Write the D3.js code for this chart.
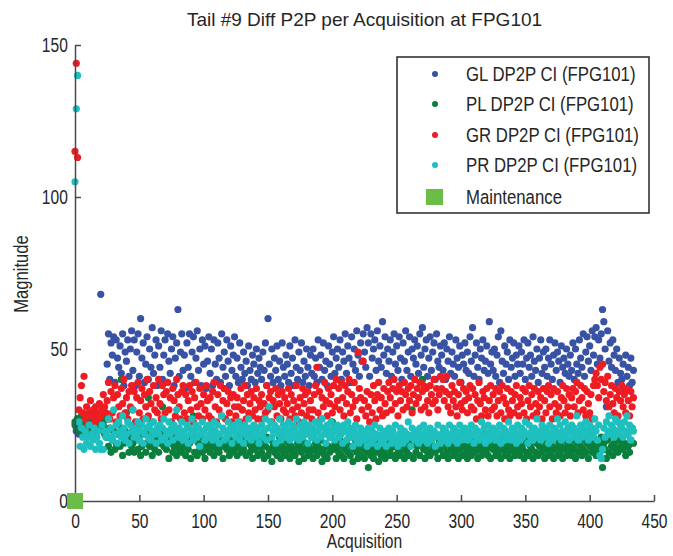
<!DOCTYPE html>
<html>
<head>
<meta charset="utf-8">
<script src="https://cdn.jsdelivr.net/npm/d3@7"></script>
<style>
  body { margin: 0; background: #fff; }
  text { font-family: "Liberation Sans", Arial, sans-serif; fill: #262626; }
</style>
</head>
<body>
<script>
// values, one per acquisition (index = acquisition number)
var glValues = [
  25,23,27,22,26,24,28,23,25,27,22,26,24,29,23,25,27,24,26,28,68,26,24,28,27,
  45,55,40,52,48,54,39,53,47,44,51,42,55,38,49,46,53,41,50,56,
  43,53,38,49,55,41,60,47,52,39,45,54,40,50,44,57,42,48,53,38,
  51,44,56,40,48,53,39,55,46,42,50,54,38,47,52,63,41,49,55,43,
  48,37,52,44,55,41,49,54,39,47,56,43,50,38,53,45,51,37,46,54,
  42,50,38,53,45,40,52,47,39,55,44,49,41,53,46,38,51,43,48,54,
  41,47,39,52,44,40,49,42,46,38,51,43,40,48,45,39,50,42,47,44,
  40,49,43,52,38,60,45,41,50,39,47,43,51,40,46,38,52,44,41,48,
  45,39,51,42,47,38,53,44,40,49,43,52,39,46,41,50,44,38,48,42,
  50,41,47,39,53,44,48,40,52,43,46,38,51,45,41,49,54,42,47,50,
  44,53,40,49,46,55,42,51,47,39,54,45,50,43,56,48,41,52,46,55,
  49,44,57,52,41,55,47,50,53,43,56,46,51,44,59,48,54,42,50,46,
  53,41,49,55,45,51,43,54,47,40,52,46,56,43,49,54,41,50,47,53,
  45,51,42,55,48,57,44,50,53,41,47,54,43,49,52,40,55,46,44,51,
  48,43,52,40,50,46,54,42,49,45,41,53,47,44,51,39,48,45,52,43,
  49,42,54,46,57,41,48,52,44,40,50,47,53,43,46,51,42,59,45,49,
  43,50,41,48,54,39,56,46,42,51,45,49,40,53,44,47,52,41,48,45,
  51,42,49,45,53,40,47,52,44,48,41,54,46,43,50,39,47,53,42,49,
  44,50,41,47,53,45,40,48,52,43,49,46,39,51,44,47,42,50,45,41,
  48,43,52,40,50,45,42,53,47,44,55,41,49,54,46,51,43,56,48,54,
  57,45,53,47,55,63,59,50,31,56,46,52,44,53,48,43,50,39,47,42,
  40,45,36,48,41,44,38,47,39,43
];
var plValues = [
  26,24,27,23,25,28,24,26,22,27,25,23,28,24,26,29,25,27,23,26,24,28,25,22,27,
  21,18,24,16,20,23,17,19,22,25,18,40,15,19,23,29,20,16,22,18,
  19,16,21,24,17,20,15,18,22,19,16,23,34,18,21,15,19,17,22,20,
  16,19,22,31,18,21,17,20,14,19,23,16,18,21,15,19,17,22,16,20,
  18,15,21,17,19,14,22,28,16,20,15,19,17,21,16,18,14,20,17,19,
  16,21,18,15,19,17,22,16,20,18,14,37,19,17,21,15,18,16,20,17,
  19,15,18,21,16,30,17,20,15,19,22,16,18,14,20,17,19,15,21,18,
  16,19,14,18,21,15,17,20,13,18,16,19,15,17,21,14,18,16,20,15,
  17,19,14,18,16,21,15,17,19,13,18,16,20,14,17,19,15,18,16,21,
  14,17,19,15,18,16,20,13,17,15,19,14,18,16,21,26,17,19,14,18,
  16,20,15,18,14,17,19,16,21,15,18,13,17,20,16,14,18,15,19,17,
  14,18,16,11,19,15,17,14,20,16,18,13,17,15,19,16,14,18,20,15,
  17,19,15,18,14,20,16,18,15,21,17,14,19,16,18,15,20,30,14,19,
  16,18,21,15,19,40,17,14,18,16,20,15,19,17,22,16,18,14,20,17,
  19,15,18,21,16,14,19,17,22,15,18,16,20,14,17,19,15,21,18,16,
  14,19,17,15,20,18,16,21,14,17,19,15,18,16,22,17,15,19,14,18,
  17,20,15,18,16,21,14,19,17,15,20,18,16,14,19,17,21,15,18,16,
  20,15,18,17,14,19,16,21,15,18,17,14,20,16,19,15,18,22,16,17,
  14,19,17,15,20,16,18,14,21,17,15,19,16,18,14,20,17,15,19,16,
  18,15,20,17,14,19,16,22,18,15,17,20,16,19,14,18,21,16,19,17,
  15,20,18,16,21,11,19,17,14,20,16,22,18,15,19,17,23,16,20,18,
  21,17,19,15,22,18,16,20,24,19
];
var grValues = [
  115,144,113,30,34,38,29,41,27,31,25,29,33,28,30,26,31,29,27,32,28,30,35,31,29,
  33,39,27,36,29,34,38,26,35,31,28,37,32,40,29,34,27,36,31,38,
  30,36,26,34,39,29,33,37,27,35,31,40,28,36,32,26,38,30,34,29,
  40,32,27,38,35,29,36,39,30,34,26,37,33,28,40,35,31,27,36,38,
  29,35,27,33,38,30,36,26,34,39,31,28,37,32,27,35,30,38,33,28,
  34,27,36,39,31,26,35,30,38,28,33,37,27,32,36,29,34,26,35,31,
  28,34,31,26,37,30,33,38,27,35,29,32,36,28,34,30,37,27,33,31,
  35,27,32,29,38,30,34,36,26,33,31,37,28,35,32,27,36,30,34,29,
  32,37,27,35,30,33,28,38,31,26,34,29,37,32,35,28,36,30,33,27,
  30,35,38,44,29,36,27,34,31,39,33,28,37,32,35,29,38,31,40,33,
  37,30,39,34,28,38,32,36,40,29,35,31,39,33,27,49,37,34,30,46,
  33,28,36,31,26,35,29,38,33,27,35,39,30,34,28,37,32,29,36,39,
  34,30,37,40,32,36,28,38,33,36,30,39,35,31,37,33,38,29,35,40,
  32,37,34,39,30,36,38,31,37,33,29,38,35,32,40,33,37,30,35,41,
  37,40,33,36,41,31,35,29,38,33,36,31,28,35,39,32,30,37,33,36,
  29,34,38,31,37,30,35,27,33,39,32,28,36,34,30,37,28,33,38,30,
  35,31,37,28,33,36,29,38,34,27,32,37,30,28,36,33,29,35,38,31,
  28,34,32,37,29,36,27,33,38,31,35,28,37,32,29,36,31,34,27,37,
  33,29,36,38,31,35,27,37,32,29,36,31,28,34,38,33,29,37,31,35,
  28,34,37,31,36,39,29,33,38,34,30,37,28,36,32,29,35,27,38,40,
  42,38,34,44,40,45,36,39,33,41,31,35,38,32,29,37,34,28,36,33,
  38,31,35,29,37,33,28,36,31,34
];
var prValues = [
  105,129,140,26,18,24,21,17,23,19,21,25,18,22,20,24,17,21,23,19,17,25,17,23,21,
  23,27,21,24,20,30,22,25,19,26,23,21,28,24,20,22,26,19,25,23,
  30,21,24,22,26,20,23,25,19,22,27,24,21,25,20,23,26,22,19,24,
  22,25,20,24,27,21,23,19,26,22,24,20,25,23,30,21,24,22,26,20,
  23,21,25,19,24,22,27,20,23,25,21,24,18,22,26,23,20,24,21,25,
  22,24,20,26,23,21,25,19,22,28,24,20,23,21,26,22,24,19,23,25,
  21,23,26,20,24,22,19,25,23,21,27,24,20,22,25,23,21,24,19,22,
  25,21,23,27,20,24,31,26,21,23,25,19,24,22,27,20,23,25,21,24,
  22,26,20,23,25,21,24,27,22,20,25,23,21,26,24,22,19,25,23,21,
  24,22,26,20,23,25,21,27,24,22,19,25,23,21,26,22,24,20,23,25,
  21,24,22,19,25,23,20,26,22,24,21,18,23,25,20,22,19,24,21,23,
  20,22,18,24,21,19,23,20,25,22,18,21,24,19,22,20,23,18,21,24,
  22,19,23,21,25,20,18,22,24,21,19,23,20,22,26,21,18,24,22,20,
  23,21,19,24,22,20,25,21,23,19,22,24,20,21,23,18,22,25,21,19,
  22,24,20,23,21,19,25,22,20,24,21,23,19,22,25,20,23,21,24,22,
  20,23,21,25,22,19,24,21,23,20,22,26,21,24,19,22,25,20,23,21,
  24,22,20,23,21,25,19,22,24,20,23,21,26,22,20,24,21,23,19,25,
  22,20,24,21,23,26,22,19,25,21,23,20,24,22,27,21,23,20,25,22,
  24,21,23,19,25,22,20,24,21,23,27,22,25,20,23,21,26,22,24,20,
  23,25,21,24,22,28,20,23,25,21,24,22,26,23,20,25,22,24,21,27,
  23,20,25,15,14,17,24,21,26,23,28,22,25,24,21,27,23,26,22,25,
  24,21,26,23,28,22,25,20,24,23
];
var maintenance = [{x: 0, y: 0}];

var seriesNames = ["GL DP2P CI (FPG101)", "PL DP2P CI (FPG101)", "GR DP2P CI (FPG101)", "PR DP2P CI (FPG101)"];
var seriesColors = ["#3852a4", "#0a7f3c", "#ee1d24", "#1ebfbf"];
var maintColor = "#6abd45";
var xTicks = [0, 50, 100, 150, 200, 250, 300, 350, 400, 450];
var yTicks = [0, 50, 100, 150];

var width = 673, height = 556;
var margin = {top: 45, right: 19, bottom: 55, left: 75};
var narrow = 0.8;   // no condensed font installed, squeeze Liberation Sans instead

var xScale = d3.scaleLinear().domain([0, 450]).range([margin.left, width - margin.right]);
var yScale = d3.scaleLinear().domain([0, 150]).range([height - margin.bottom, margin.top]);

var svg = d3.select('body')
    .append('svg')
    .attr('width', width)
    .attr('height', height);

var series = [glValues, plValues, grValues, prValues];

// dots, in plot order (GL first, PR on top)
series.forEach(function(vals, k) {
    svg.append('g')
        .selectAll('circle')
        .data(vals)
        .enter()
        .append('circle')
        .attr('cx', function(d, i) { return xScale(i); })
        .attr('cy', function(d) { return yScale(d); })
        .attr('r', 3.6)
        .attr('fill', seriesColors[k]);
});

// x axis
var xAxis = svg.append('g')
    .attr('transform', 'translate(0,' + yScale(0) + ')')
    .call(d3.axisBottom(xScale).tickValues(xTicks).tickSizeInner(-6).tickSizeOuter(0).tickPadding(13));
// y axis
var yAxis = svg.append('g')
    .attr('transform', 'translate(' + xScale(0) + ',0)')
    .call(d3.axisLeft(yScale).tickValues(yTicks).tickSizeInner(-6).tickSizeOuter(0).tickPadding(9));

[xAxis, yAxis].forEach(function(ax) {
    ax.select('.domain').attr('stroke', '#4a4a4a').attr('stroke-width', 1.5);
    ax.selectAll('.tick line').attr('stroke', '#4a4a4a').attr('stroke-width', 1.5);
    ax.selectAll('.tick text')
        .attr('font-size', '19.5px')
        .attr('fill', '#262626')
        .attr('transform', 'scale(' + narrow + ',1)')
        .style('font-family', '"Liberation Sans", Arial, sans-serif');
});

// maintenance marker
svg.selectAll('.maint')
    .data(maintenance)
    .enter()
    .append('rect')
    .attr('class', 'maint')
    .attr('x', function(d) { return xScale(d.x) - 8; })
    .attr('y', function(d) { return yScale(d.y) - 8; })
    .attr('width', 16)
    .attr('height', 16)
    .attr('fill', maintColor);

// title and labels
svg.append('text')
    .attr('x', (xScale(0) + xScale(450)) / 2)
    .attr('y', 26)
    .attr('text-anchor', 'middle')
    .attr('font-size', '19px')
    .text('Tail #9 Diff P2P per Acquisition at FPG101');
svg.append('text')
    .attr('transform', 'translate(' + (xScale(0) + xScale(450)) / 2 + ',548) scale(' + narrow + ',1)')
    .attr('text-anchor', 'middle')
    .attr('font-size', '19.5px')
    .text('Acquisition');
svg.append('text')
    .attr('transform', 'translate(28,274) rotate(-90) scale(0.85,1)')
    .attr('text-anchor', 'middle')
    .attr('font-size', '19.5px')
    .text('Magnitude');

// legend
var legend = svg.append('g').attr('transform', 'translate(397,57)');
legend.append('rect')
    .attr('width', 252)
    .attr('height', 156)
    .attr('fill', '#fff')
    .attr('stroke', '#262626')
    .attr('stroke-width', 1.5);
var rows = [17, 47, 78, 108, 140];
seriesNames.forEach(function(name, k) {
    legend.append('circle')
        .attr('cx', 38).attr('cy', rows[k]).attr('r', 3)
        .attr('fill', seriesColors[k]);
    legend.append('text')
        .attr('transform', 'translate(69,' + (rows[k] + 7) + ') scale(0.86,1)')
        .attr('font-size', '19.5px')
        .text(name);
});
legend.append('rect')
    .attr('x', 29).attr('y', rows[4] - 8).attr('width', 17).attr('height', 16)
    .attr('fill', maintColor);
legend.append('text')
    .attr('transform', 'translate(69,' + (rows[4] + 7) + ') scale(0.86,1)')
    .attr('font-size', '19.5px')
    .text('Maintenance');
</script>
</body>
</html>
